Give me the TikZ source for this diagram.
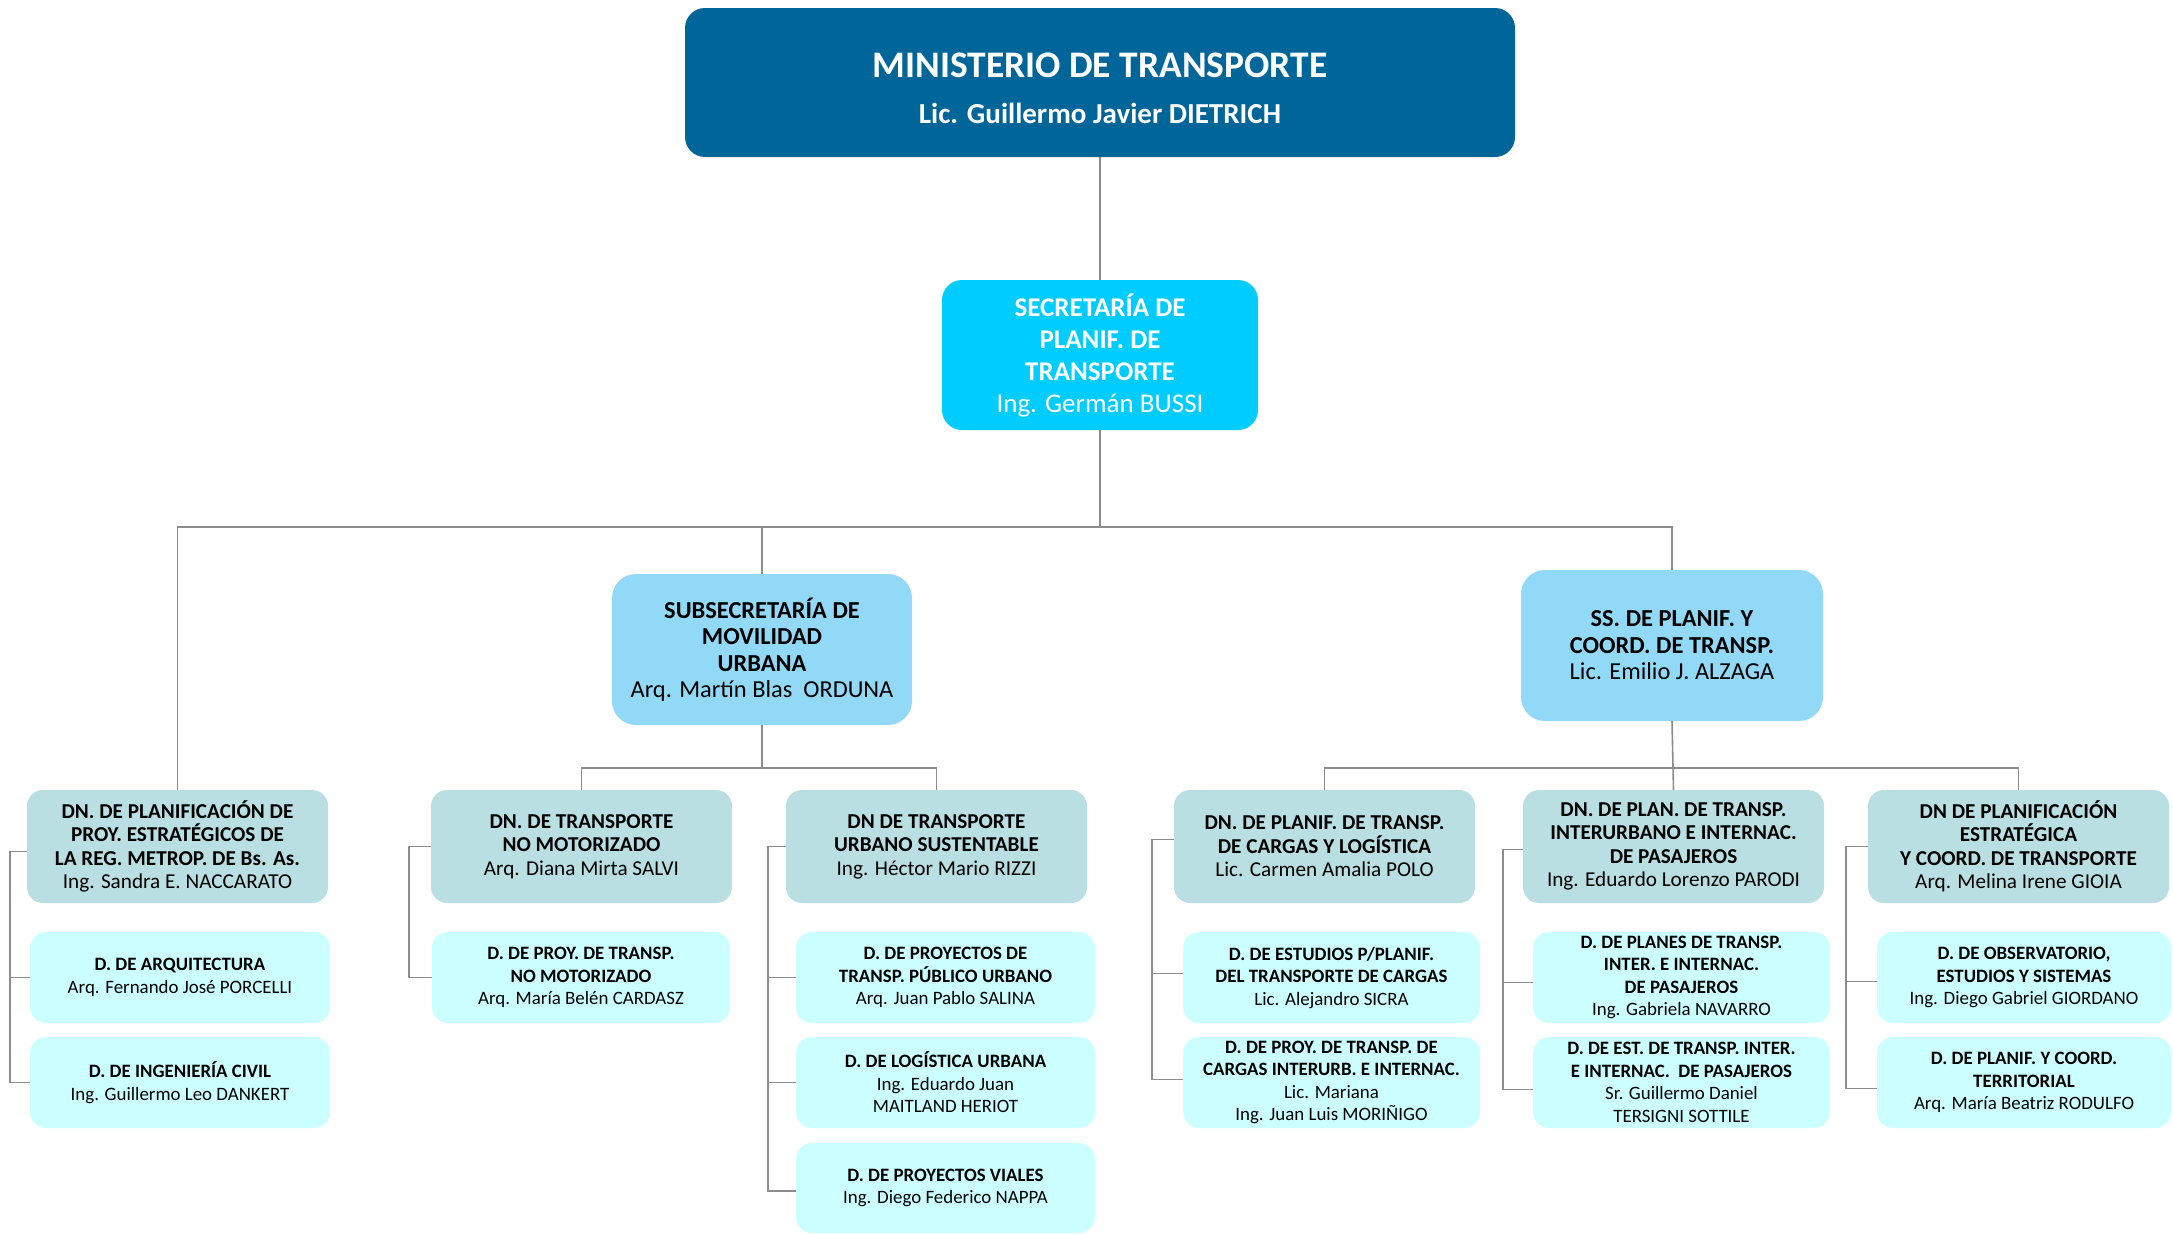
\documentclass[tikz,border=0pt]{standalone}
\usepackage{fontspec}
\setmainfont{Carlito}
\definecolor{minblue}{HTML}{006699}
\definecolor{secblue}{HTML}{00CCFF}
\definecolor{subblue}{HTML}{91D9F7}
\definecolor{dnfill}{HTML}{B9DFE3}
\definecolor{dfill}{HTML}{CCFFFF}
\definecolor{linegray}{HTML}{8C8C8C}
\newcommand{\B}[1]{\textbf{#1}}
\tikzset{
  box/.style={anchor=north west, inner sep=0pt, outer sep=0pt, align=center, draw=none},
  minbox/.style={box, fill=minblue, text=white, rounded corners=20pt, minimum width=830pt, minimum height=149pt, font=\bfseries\fontsize{29}{46}\selectfont},
  secbox/.style={box, fill=secblue, text=white, rounded corners=20pt, minimum width=316pt, minimum height=150pt, font=\fontsize{27}{32}\selectfont},
  subbox/.style={box, fill=subblue, text=black, rounded corners=24pt, minimum width=301pt, minimum height=151pt, font=\fontsize{24.4}{26.5}\selectfont},
  dnbox/.style={box, fill=dnfill, text=black, rounded corners=16pt, minimum width=301pt, minimum height=113pt, font=\fontsize{21.2}{23.5}\selectfont},
  dbox/.style={box, fill=dfill, text=black, rounded corners=16pt, minimum width=298pt, minimum height=91pt, font=\fontsize{18.9}{22.5}\selectfont},
  conn/.style={draw=linegray, line width=1.6pt}
}
\begin{document}
\begin{tikzpicture}[x=1pt,y=-1pt]
\useasboundingbox (0,0) rectangle (2173,1234);
% top levels
\node[minbox] (min) at (685,8) {{\fontsize{37.5}{46}\selectfont\rule{0pt}{37pt}MINISTERIO DE TRANSPORTE}\\Lic. Guillermo Javier DIETRICH};
\node[secbox] (sec) at (942,280) {\B{SECRETARÍA DE}\\\B{PLANIF. DE}\\\B{TRANSPORTE}\\Ing. Germán BUSSI};
\node[subbox, minimum width=300pt] (sub) at (612,574) {\B{SUBSECRETARÍA DE}\\\B{MOVILIDAD}\\\B{URBANA}\\Arq. Martín Blas\ \ ORDUNA};
\node[subbox, minimum width=302pt] (ss) at (1521,570) {\B{SS. DE PLANIF. Y}\\\B{COORD. DE TRANSP.}\\Lic. Emilio J. ALZAGA};
% DN level
\node[dnbox] (dn1) at (27,790) {\B{DN. DE PLANIFICACIÓN DE}\\\B{PROY. ESTRATÉGICOS DE}\\\B{LA REG. METROP. DE Bs. As.}\\Ing. Sandra E. NACCARATO};
\node[dnbox] (dn2) at (431,790) {\B{DN. DE TRANSPORTE}\\\B{NO MOTORIZADO}\\Arq. Diana Mirta SALVI};
\node[dnbox] (dn3) at (786,790) {\B{DN DE TRANSPORTE}\\\B{URBANO SUSTENTABLE}\\Ing. Héctor Mario RIZZI};
\node[dnbox] (dn4) at (1174,790) {\B{DN. DE PLANIF. DE TRANSP.}\\\B{DE CARGAS Y LOGÍSTICA}\\Lic. Carmen Amalia POLO};
\node[dnbox] (dn5) at (1523,790) {\B{DN. DE PLAN. DE TRANSP.}\\\B{INTERURBANO E INTERNAC.}\\\B{DE PASAJEROS}\\Ing. Eduardo Lorenzo PARODI};
\node[dnbox] (dn6) at (1868,790) {\B{DN DE PLANIFICACIÓN}\\\B{ESTRATÉGICA}\\\B{Y COORD. DE TRANSPORTE}\\Arq. Melina Irene GIOIA};
% D level
\node[dbox, minimum width=300pt] (d11) at (30,932) {\B{D. DE ARQUITECTURA}\\Arq. Fernando José PORCELLI};
\node[dbox, minimum width=300pt] (d12) at (30,1037) {\B{D. DE INGENIERÍA CIVIL}\\Ing. Guillermo Leo DANKERT};
\node[dbox] (d21) at (432,932) {\B{D. DE PROY. DE TRANSP.}\\\B{NO MOTORIZADO}\\Arq. María Belén CARDASZ};
\node[dbox, minimum width=299pt] (d31) at (796,932) {\B{D. DE PROYECTOS DE}\\\B{TRANSP. PÚBLICO URBANO}\\Arq. Juan Pablo SALINA};
\node[dbox, minimum width=299pt] (d32) at (796,1037) {\B{D. DE LOGÍSTICA URBANA}\\Ing. Eduardo Juan\\MAITLAND HERIOT};
\node[dbox, minimum width=299pt, minimum height=90pt] (d33) at (796,1143) {\B{D. DE PROYECTOS VIALES}\\Ing. Diego Federico NAPPA};
\node[dbox, minimum width=297pt] (d41) at (1183,932) {\B{D. DE ESTUDIOS P/PLANIF.}\\\B{DEL TRANSPORTE DE CARGAS}\\Lic. Alejandro SICRA};
\node[dbox, minimum width=297pt] (d42) at (1183,1037) {\B{D. DE PROY. DE TRANSP. DE}\\\B{CARGAS INTERURB. E INTERNAC.}\\Lic. Mariana\\Ing. Juan Luis MORIÑIGO};
\node[dbox, minimum width=297pt] (d51) at (1533,932) {\B{D. DE PLANES DE TRANSP.}\\\B{INTER. E INTERNAC.}\\\B{DE PASAJEROS}\\Ing. Gabriela NAVARRO};
\node[dbox, minimum width=297pt] (d52) at (1533,1037) {\B{D. DE EST. DE TRANSP. INTER.}\\\B{E INTERNAC.\ \ DE PASAJEROS}\\Sr. Guillermo Daniel\\TERSIGNI SOTTILE};
\node[dbox, minimum width=294pt] (d61) at (1877,932) {\B{D. DE OBSERVATORIO,}\\\B{ESTUDIOS Y SISTEMAS}\\Ing. Diego Gabriel GIORDANO};
\node[dbox, minimum width=294pt] (d62) at (1877,1037) {\B{D. DE PLANIF. Y COORD.}\\\B{TERRITORIAL}\\Arq. María Beatriz RODULFO};
% junction coordinates
\coordinate (j1) at (0,527);
\coordinate (j2) at (0,768);
% connectors top
\draw[conn] (min.south) -- (sec.north);
\draw[conn] (sec.south) -- (sec.south |- j1);
\draw[conn] (dn1.north) -- (dn1.north |- j1) -- (ss.north |- j1) -- (ss.north);
\draw[conn] (sub.north) -- (sub.north |- j1);
% subsecretaria children
\draw[conn] (sub.south) -- (sub.south |- j2);
\draw[conn] (dn2.north) -- (dn2.north |- j2) -- (dn3.north |- j2) -- (dn3.north);
% ss children
\draw[conn] (ss.south) -- (dn5.north);
\draw[conn] (dn4.north) -- (dn4.north |- j2) -- (dn6.north |- j2) -- (dn6.north);
% brackets
\coordinate (b1) at (10,0);
\coordinate (b2) at (409,0);
\coordinate (b3) at (768,0);
\coordinate (b4) at (1152,0);
\coordinate (b5) at (1503,0);
\coordinate (b6) at (1846,0);
\draw[conn] ([yshift=-5pt]dn1.west) -- ([yshift=-5pt]dn1.west -| b1) |- (d12.west);
\draw[conn] (d11.west) -- (d11.west -| b1);
\draw[conn] (dn2.west) -- (dn2.west -| b2) |- (d21.west);
\draw[conn] (dn3.west) -- (dn3.west -| b3) |- ([yshift=-3pt]d33.west);
\draw[conn] (d31.west) -- (d31.west -| b3);
\draw[conn] (d32.west) -- (d32.west -| b3);
\draw[conn] ([yshift=7pt]dn4.west) -- ([yshift=7pt]dn4.west -| b4) |- ([yshift=3pt]d42.west);
\draw[conn] ([yshift=4pt]d41.west) -- ([yshift=4pt]d41.west -| b4);
\draw[conn] ([yshift=-3pt]dn5.west) -- ([yshift=-3pt]dn5.west -| b5) |- ([yshift=-7pt]d52.west);
\draw[conn] ([yshift=-5pt]d51.west) -- ([yshift=-5pt]d51.west -| b5);
\draw[conn] (dn6.west) -- (dn6.west -| b6) |- ([yshift=-6pt]d62.west);
\draw[conn] ([yshift=-4pt]d61.west) -- ([yshift=-4pt]d61.west -| b6);
\end{tikzpicture}
\end{document}
